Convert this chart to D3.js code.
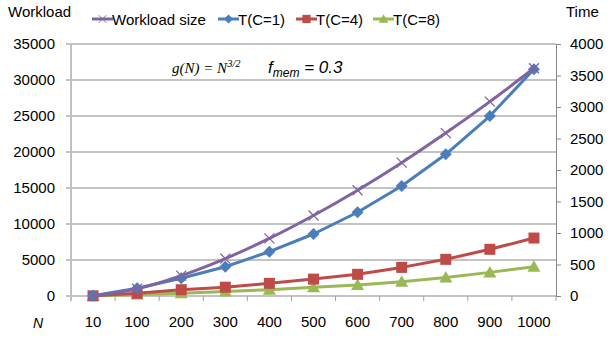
<!DOCTYPE html>
<html>
<head>
<meta charset="utf-8">
<script src="https://cdn.jsdelivr.net/npm/d3@7"></script>
<style>
  body { margin: 0; background: #fff; }
  text { font-family: "Liberation Sans", Arial, sans-serif; fill: #000; }
</style>
</head>
<body>
<div id="chart"></div>
<script>
// data
const categories = ["10", "100", "200", "300", "400", "500", "600", "700", "800", "900", "1000"];
const workload = [32, 1000, 2828, 5196, 8000, 11180, 14697, 18520, 22627, 27000, 31623];
const timeC1 = [4, 122, 281, 465, 703, 984, 1329, 1746, 2249, 2857, 3600];
const timeC4 = [2, 42, 100, 140, 201, 268, 344, 454, 582, 741, 920];
const timeC8 = [1, 22, 45, 70, 100, 138, 175, 228, 295, 375, 466];
const leftTicks = [0, 5000, 10000, 15000, 20000, 25000, 30000, 35000];
const rightTicks = [0, 500, 1000, 1500, 2000, 2500, 3000, 3500, 4000];

const width = 610, height = 339;
const plotLeft = 71, plotRight = 556, plotTop = 44, plotBottom = 296;
const fontSize = "15px";

const svg = d3.select("#chart").append("svg")
  .attr("width", width)
  .attr("height", height);

let x = d3.scaleBand().domain(categories).range([plotLeft, plotRight]).padding(0);
let yLeft = d3.scaleLinear().domain([0, 35000]).range([plotBottom, plotTop]);
let yRight = d3.scaleLinear().domain([0, 4000]).range([plotBottom, plotTop]);

//gridlines
svg.append("g").selectAll("line").data(leftTicks).enter().append("line")
  .attr("x1", plotLeft - 5).attr("x2", plotRight)
  .attr("y1", d => yLeft(d)).attr("y2", d => yLeft(d))
  .attr("stroke", "#878787").attr("stroke-width", 1);

//left axis
let leftAxis = svg.append("g")
  .attr("transform", "translate(" + plotLeft + ",0)")
  .call(d3.axisLeft(yLeft).tickValues(leftTicks).tickSize(0).tickPadding(16).tickFormat(d3.format("d")));
leftAxis.select(".domain").remove();
leftAxis.selectAll("text").style("font-size", fontSize).attr("fill", "#000");
svg.append("line")
  .attr("x1", plotLeft).attr("x2", plotLeft).attr("y1", plotTop).attr("y2", plotBottom)
  .attr("stroke", "#c0c0c0").attr("stroke-width", 2);

//right axis
let rightAxis = svg.append("g")
  .attr("transform", "translate(" + plotRight + ",0)")
  .call(d3.axisRight(yRight).tickValues(rightTicks).tickSize(5).tickPadding(9).tickFormat(d3.format("d")));
rightAxis.select(".domain").attr("stroke", "#878787");
rightAxis.selectAll(".tick line").attr("stroke", "#878787");
rightAxis.selectAll("text").style("font-size", fontSize).attr("fill", "#000");

//bottom axis
let bottomAxis = svg.append("g")
  .attr("transform", "translate(0," + plotBottom + ")")
  .call(d3.axisBottom(x).tickSize(0).tickPadding(20));
bottomAxis.select(".domain").remove();
bottomAxis.selectAll("text").style("font-size", fontSize).attr("fill", "#000");
svg.append("g").selectAll("line").data(categories).enter().append("line")
  .attr("x1", (d, i) => plotLeft + x.step() * (i + 1)).attr("x2", (d, i) => plotLeft + x.step() * (i + 1))
  .attr("y1", plotBottom).attr("y2", plotBottom + 5)
  .attr("stroke", "#a0a0a0");
svg.append("line")
  .attr("x1", plotLeft).attr("x2", plotLeft).attr("y1", plotBottom).attr("y2", plotBottom + 5)
  .attr("stroke", "#c0c0c0").attr("stroke-width", 2);

svg.append("text").attr("x", 33).attr("y", 328)
  .style("font-size", "14px").style("font-style", "italic").text("N");

const cx = d => x(d) + x.bandwidth() / 2;

let series = [
  { name: "Workload size", values: workload, scale: yLeft, color: "#8064A2", marker: "x" },
  { name: "T(C=1)", values: timeC1, scale: yRight, color: "#4A7EBB", marker: "diamond" },
  { name: "T(C=4)", values: timeC4, scale: yRight, color: "#BE4B48", marker: "square" },
  { name: "T(C=8)", values: timeC8, scale: yRight, color: "#98B954", marker: "triangle" }
];

function drawMarker(g, type, color) {
  if (type === "x") {
    g.append("path").attr("d", "M-5,-5L5,5M-5,5L5,-5")
      .attr("stroke", color).attr("stroke-width", 1.3).attr("fill", "none");
  } else if (type === "diamond") {
    g.append("path").attr("d", "M0,-6L6,0L0,6L-6,0Z").attr("fill", color);
  } else if (type === "square") {
    g.append("rect").attr("x", -5.5).attr("y", -5.5).attr("width", 11).attr("height", 11).attr("fill", color);
  } else {
    g.append("path").attr("d", "M0,-6.5L6.5,5L-6.5,5Z").attr("fill", color);
  }
}

//lines and markers, drawn back to front
series.slice().reverse().forEach(function(s) {
  let line = d3.line()
    .x((d, i) => cx(categories[i]))
    .y(d => s.scale(d));
  if (s.marker === "x") line.curve(d3.curveMonotoneX);

  svg.append("path").datum(s.values)
    .attr("d", line)
    .attr("fill", "none")
    .attr("stroke", s.color)
    .attr("stroke-width", 3)
    .attr("stroke-linejoin", "round");

  svg.append("g").selectAll("g").data(s.values).enter().append("g")
    .attr("transform", (d, i) => "translate(" + cx(categories[i]) + "," + s.scale(d) + ")")
    .each(function() { drawMarker(d3.select(this), s.marker, s.color); });
});

//legend
const legendX = [92, 218, 296, 373];
let legend = svg.append("g").selectAll("g").data(series).enter().append("g")
  .attr("transform", (d, i) => "translate(" + legendX[i] + ",19)");
legend.append("line").attr("x1", 0).attr("x2", 21).attr("y1", 0).attr("y2", 0)
  .attr("stroke", d => d.color).attr("stroke-width", 3);
legend.each(function(d) {
  let m = d3.select(this).append("g").attr("transform", "translate(10.5,0) scale(0.75)");
  drawMarker(m, d.marker, d.color);
});
legend.append("text").attr("x", 20).attr("y", 5.5)
  .style("font-size", fontSize).text(d => d.name);

svg.append("text").attr("x", 8).attr("y", 17).style("font-size", fontSize).text("Workload");
svg.append("text").attr("x", 566).attr("y", 17).style("font-size", fontSize).text("Time");

//formula annotation
let formula = svg.append("text").attr("x", 172).attr("y", 73);
formula.append("tspan").style("font-family", "'Liberation Serif', 'Times New Roman', serif")
  .style("font-style", "italic").style("font-size", "15px").text("g(N) = N");
formula.append("tspan").style("font-family", "'Liberation Serif', 'Times New Roman', serif")
  .style("font-style", "italic").style("font-size", "10.5px").attr("dy", -6).text("3/2");
let fmem = svg.append("text").attr("x", 268).attr("y", 73)
  .style("font-style", "italic").style("font-size", "17px");
fmem.append("tspan").text("f");
fmem.append("tspan").style("font-size", "12px").attr("dy", 4).text("mem");
fmem.append("tspan").attr("dy", -4).text(" = 0.3");
</script>
</body>
</html>
